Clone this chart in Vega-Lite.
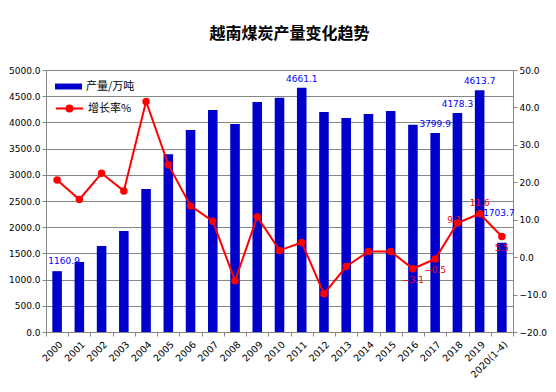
{
  "$schema": "https://vega.github.io/schema/vega-lite/v6.json",
  "width": 467,
  "height": 262,
  "autosize": {"type": "none"},
  "padding": {"left": 46, "top": 70, "right": 43, "bottom": 60},
  "background": "white",
  "title": {"text": "越南煤炭产量变化趋势", "anchor": "middle", "frame": "group", "offset": 24, "dx": 10, "font": "Noto Sans CJK SC", "fontSize": 16, "fontWeight": "bold", "color": "#000000"},
  "config": {
    "view": {"stroke": null},
    "axis": {"labelFont": "DejaVu Sans", "labelFontSize": 9, "labelColor": "#000000", "domainColor": "#868686", "tickColor": "#868686", "gridColor": "#868686", "gridOpacity": 1, "title": null, "tickSize": 4, "labelOverlap": false},
    "legend": {"labelFont": "Noto Sans CJK SC", "labelFontSize": 11, "labelColor": "#000000"}
  },
  "data": {"values": [
    {"year": "2000", "output": 1160.9, "growth": 20.6},
    {"year": "2001", "output": 1336, "growth": 15.4},
    {"year": "2002", "output": 1641, "growth": 22.4},
    {"year": "2003", "output": 1927, "growth": 17.7},
    {"year": "2004", "output": 2729, "growth": 41.6},
    {"year": "2005", "output": 3391, "growth": 24.7},
    {"year": "2006", "output": 3855, "growth": 13.7},
    {"year": "2007", "output": 4237, "growth": 9.6},
    {"year": "2008", "output": 3970, "growth": -6.3},
    {"year": "2009", "output": 4389, "growth": 10.8},
    {"year": "2010", "output": 4472, "growth": 1.8},
    {"year": "2011", "output": 4661.1, "growth": 3.9},
    {"year": "2012", "output": 4198, "growth": -9.8},
    {"year": "2013", "output": 4084, "growth": -2.5},
    {"year": "2014", "output": 4160, "growth": 1.5},
    {"year": "2015", "output": 4218, "growth": 1.5},
    {"year": "2016", "output": 3955, "growth": -3.1},
    {"year": "2017", "output": 3799.9, "growth": -0.5},
    {"year": "2018", "output": 4178.3, "growth": 9.1},
    {"year": "2019", "output": 4613.7, "growth": 11.6},
    {"year": "2020(1-4)", "output": 1703.7, "growth": 5.5}
  ]},
  "encoding": {
    "x": {"field": "year", "type": "ordinal", "sort": null, "scale": {"paddingInner": 0, "paddingOuter": 0},
      "axis": {"labelAngle": -45, "labelAlign": "right", "labelBaseline": "top", "tickBand": "extent", "labelPadding": 3, "labelFontSize": 9.5}}
  },
  "layer": [
    {
      "encoding": {
        "y": {"field": "output", "type": "quantitative", "scale": {"domain": [0, 5000], "nice": false},
          "axis": {"orient": "left", "values": [0,500,1000,1500,2000,2500,3000,3500,4000,4500,5000], "format": ".1f", "grid": true, "labelOverlap": false}}
      },
      "layer": [
        {
          "mark": {"type": "bar", "width": {"band": 0.43}},
          "encoding": {
            "fill": {"datum": "产量/万吨", "type": "nominal", "scale": {"range": ["#0000CC"]},
              "legend": {"orient": "none", "legendX": 9, "legendY": 3, "title": null, "padding": 0, "symbolType": "M-1,-0.22H1V0.22H-1Z", "symbolSize": 729, "symbolStrokeWidth": 0, "labelOffset": 4}}
          }
        },
        {
          "transform": [{"filter": {"field": "year", "oneOf": ["2011", "2017", "2018", "2019"]}}],
          "mark": {"type": "text", "baseline": "bottom", "dy": -4, "font": "DejaVu Sans", "fontSize": 9, "color": "#0000FF"},
          "encoding": {"text": {"field": "output", "type": "quantitative", "format": ".1f"}}
        },
        {
          "transform": [{"filter": {"field": "year", "equal": "2000"}}],
          "mark": {"type": "text", "baseline": "bottom", "dy": -5, "dx": 7, "font": "DejaVu Sans", "fontSize": 9, "color": "#0000FF"},
          "encoding": {"text": {"field": "output", "type": "quantitative", "format": ".1f"}}
        },
        {
          "transform": [{"filter": {"field": "year", "equal": "2020(1-4)"}}],
          "mark": {"type": "text", "baseline": "bottom", "dy": -25, "dx": -3, "font": "DejaVu Sans", "fontSize": 9, "color": "#0000FF"},
          "encoding": {"text": {"field": "output", "type": "quantitative", "format": ".1f"}}
        }
      ]
    },
    {
      "encoding": {
        "y": {"field": "growth", "type": "quantitative", "scale": {"domain": [-20, 50], "nice": false},
          "axis": {"orient": "right", "values": [-20,-10,0,10,20,30,40,50], "format": ".1f", "grid": false, "labelOverlap": false}}
      },
      "layer": [
        {
          "mark": {"type": "line", "strokeWidth": 2, "point": {"filled": true, "size": 30, "color": "#FF0000"}},
          "encoding": {
            "stroke": {"datum": "增长率%", "type": "nominal", "scale": {"range": ["#FF0000"]},
              "legend": {"orient": "none", "legendX": 9, "legendY": 24, "title": null, "padding": 0, "symbolType": "M-1,0H1M-0.22,0A0.22,0.22,0,1,1,0.22,0A0.22,0.22,0,1,1,-0.22,0Z", "symbolSize": 729, "symbolStrokeWidth": 2, "symbolFillColor": "#FF0000", "labelOffset": 4}}
          }
        },
        {
          "transform": [{"filter": {"field": "year", "oneOf": ["2016", "2017", "2020(1-4)"]}}],
          "mark": {"type": "text", "baseline": "top", "dy": 7, "font": "DejaVu Sans", "fontSize": 9, "color": "#FF0000"},
          "encoding": {"text": {"field": "growth", "type": "quantitative", "format": ".1f"}}
        },
        {
          "transform": [{"filter": {"field": "year", "equal": "2019"}}],
          "mark": {"type": "text", "baseline": "bottom", "dy": -6, "font": "DejaVu Sans", "fontSize": 9, "color": "#FF0000"},
          "encoding": {"text": {"field": "growth", "type": "quantitative", "format": ".1f"}}
        },
        {
          "transform": [{"filter": {"field": "year", "equal": "2018"}}],
          "mark": {"type": "text", "baseline": "middle", "align": "center", "dx": -3, "dy": -3, "font": "DejaVu Sans", "fontSize": 9, "color": "#FF0000"},
          "encoding": {"text": {"field": "growth", "type": "quantitative", "format": ".1f"}}
        }
      ]
    }
  ],
  "resolve": {"scale": {"y": "independent"}}
}
